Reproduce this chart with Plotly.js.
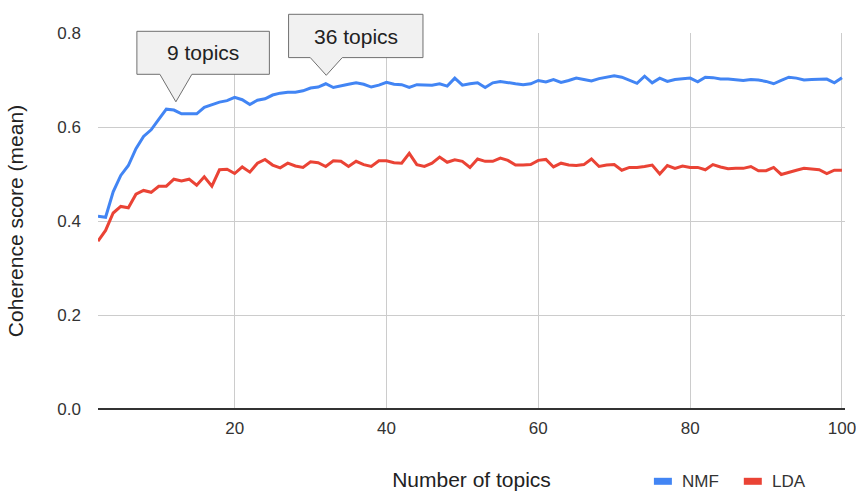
<!DOCTYPE html>
<html>
<head>
<meta charset="utf-8">
<script src="https://cdn.plot.ly/plotly-3.0.1.min.js"></script>
<style>html,body{margin:0;padding:0;background:#fff;}#chart{width:856px;height:491px;}</style>
</head>
<body>
<div id="chart"></div>
<script>
const topics = [2,3,4,5,6,7,8,9,10,11,12,13,14,15,16,17,18,19,20,21,22,23,24,25,26,27,28,29,30,31,32,33,34,35,36,37,38,39,40,41,42,43,44,45,46,47,48,49,50,51,52,53,54,55,56,57,58,59,60,61,62,63,64,65,66,67,68,69,70,71,72,73,74,75,76,77,78,79,80,81,82,83,84,85,86,87,88,89,90,91,92,93,94,95,96,97,98,99,100];

const nmf = [0.410,0.408,0.462,0.497,0.518,0.554,0.580,0.594,0.616,0.638,
  0.636,0.628,0.628,0.628,0.642,0.648,0.653,0.656,0.663,0.658,
  0.648,0.657,0.660,0.668,0.672,0.674,0.674,0.677,0.683,0.685,
  0.692,0.684,0.688,0.691,0.694,0.691,0.685,0.689,0.695,0.691,
  0.690,0.684,0.690,0.690,0.689,0.692,0.687,0.704,0.689,0.692,
  0.694,0.684,0.694,0.697,0.694,0.692,0.690,0.692,0.699,0.696,
  0.701,0.695,0.699,0.704,0.701,0.698,0.703,0.706,0.709,0.706,
  0.699,0.693,0.708,0.694,0.704,0.697,0.701,0.702,0.704,0.696,
  0.706,0.705,0.702,0.702,0.701,0.699,0.701,0.700,0.697,0.692,
  0.699,0.706,0.704,0.700,0.701,0.701,0.702,0.694,0.705];

const lda = [0.357,0.380,0.417,0.431,0.428,0.457,0.465,0.461,0.474,0.474,
  0.489,0.485,0.489,0.476,0.494,0.474,0.509,0.510,0.501,0.515,
  0.504,0.523,0.531,0.519,0.513,0.523,0.517,0.514,0.526,0.524,
  0.516,0.528,0.527,0.516,0.527,0.520,0.516,0.528,0.528,0.524,
  0.523,0.544,0.520,0.516,0.523,0.536,0.525,0.530,0.527,0.514,
  0.532,0.527,0.527,0.534,0.529,0.519,0.519,0.520,0.529,0.531,
  0.515,0.523,0.519,0.518,0.520,0.532,0.516,0.519,0.520,0.508,
  0.514,0.514,0.516,0.519,0.500,0.518,0.512,0.517,0.514,0.514,
  0.509,0.520,0.515,0.511,0.512,0.512,0.516,0.507,0.507,0.514,
  0.499,0.504,0.508,0.512,0.510,0.509,0.501,0.508,0.508];

const seriesNames = ['NMF', 'LDA'];
const seriesColors = ['#4285F4', '#EA4335'];
const yTickVals = [0, 0.2, 0.4, 0.6, 0.8];
const yTickText = ['0.0', '0.2', '0.4', '0.6', '0.8'];
const xTickVals = [20, 40, 60, 80, 100];
const xTickText = ['20', '40', '60', '80', '100'];

// callouts: label and the point (topics, score) the pointer touches
const calloutText = ['9 topics', '36 topics'];
const calloutX = [12.26, 32.07];
const calloutY = [0.6536, 0.710];

const xRange = [2, 100.4];
const yRange = [0, 0.8];

const W = 856, H = 491;
const M = {l: 97.5, r: 10.7, t: 32.7, b: 82.3};
const plotW = W - M.l - M.r, plotH = H - M.t - M.b;
const pxX = p => (p - M.l) / plotW;            // page px -> paper x
const pxY = p => (H - M.b - p) / plotH;        // page px -> paper y

const FONT = '"Liberation Sans", Arial, Helvetica, sans-serif';

const traces = seriesNames.map((nm, i) => ({
  x: topics, y: i === 0 ? nmf : lda, name: nm, type: 'scatter', mode: 'lines',
  line: {color: seriesColors[i], width: 3}, showlegend: false
}));

// bubble geometry in pixels relative to the pointer tip (up = positive)
const bubbles = [
  {l: -39, r: 93.5, b: 27.5, t: 70.5, tx: 27, ty: 49},
  {l: -37.7, r: 96.7, b: 17.7, t: 61, tx: 29.5, ty: 39}
];

const shapes = [];
const annotations = [];
calloutText.forEach((txt, i) => {
  const g = bubbles[i];
  const px = (calloutX[i] - xRange[0]) / (xRange[1] - xRange[0]);
  const py = (calloutY[i] - yRange[0]) / (yRange[1] - yRange[0]);
  const path = `M ${g.l},${g.b} L -16,${g.b} L 0,0 L 16,${g.b} L ${g.r},${g.b} L ${g.r},${g.t} L ${g.l},${g.t} Z`;
  shapes.push({
    type: 'path', xref: 'paper', yref: 'paper',
    xsizemode: 'pixel', ysizemode: 'pixel', xanchor: px, yanchor: py,
    path: path, fillcolor: '#f1f1f1', line: {color: '#707070', width: 1}, layer: 'above'
  });
  annotations.push({
    text: txt, xref: 'paper', yref: 'paper', x: px, y: py,
    xshift: g.tx, yshift: g.ty, xanchor: 'center', yanchor: 'middle',
    showarrow: false, font: {family: FONT, size: 21, color: '#222'}
  });
});

// legend (swatch + label) below the plot, right side
const legendPos = [{sw: 654, tx: 680}, {sw: 744, tx: 770}];
const legendY = 481;
seriesNames.forEach((nm, i) => {
  shapes.push({
    type: 'rect', xref: 'paper', yref: 'paper',
    x0: pxX(legendPos[i].sw), x1: pxX(legendPos[i].sw + 18),
    y0: pxY(legendY + 3.5), y1: pxY(legendY - 3.5),
    fillcolor: seriesColors[i], line: {width: 0}
  });
  annotations.push({
    text: nm, xref: 'paper', yref: 'paper', x: pxX(legendPos[i].tx), y: pxY(legendY),
    xanchor: 'left', yanchor: 'middle', showarrow: false,
    font: {family: FONT, size: 17, color: '#333'}
  });
});

const layout = {
  width: W, height: H,
  margin: M,
  paper_bgcolor: '#fff', plot_bgcolor: '#fff',
  font: {family: FONT, color: '#333'},
  showlegend: false,
  xaxis: {
    range: xRange, tickvals: xTickVals, ticktext: xTickText, automargin: false,
    showgrid: true, gridcolor: '#cccccc', gridwidth: 1, zeroline: false,
    showline: false, ticks: '', ticklabelstandoff: 7, ticklabeloverflow: 'allow',
    tickfont: {family: FONT, size: 17, color: '#333'},
    title: {text: 'Number of topics', font: {family: FONT, size: 21, color: '#222'}, standoff: 38}
  },
  yaxis: {
    range: yRange, tickvals: yTickVals, ticktext: yTickText, automargin: false,
    showgrid: true, gridcolor: '#cccccc', gridwidth: 1,
    zeroline: true, zerolinecolor: '#333333', zerolinewidth: 2,
    showline: false, ticks: '', ticklabelstandoff: 16,
    tickfont: {family: FONT, size: 17, color: '#333'},
    title: {text: 'Coherence score (mean)', font: {family: FONT, size: 21, color: '#222'}, standoff: 28}
  },
  shapes: shapes,
  annotations: annotations
};

Plotly.newPlot('chart', traces, layout, {displayModeBar: false, staticPlot: true});
</script>
</body>
</html>
